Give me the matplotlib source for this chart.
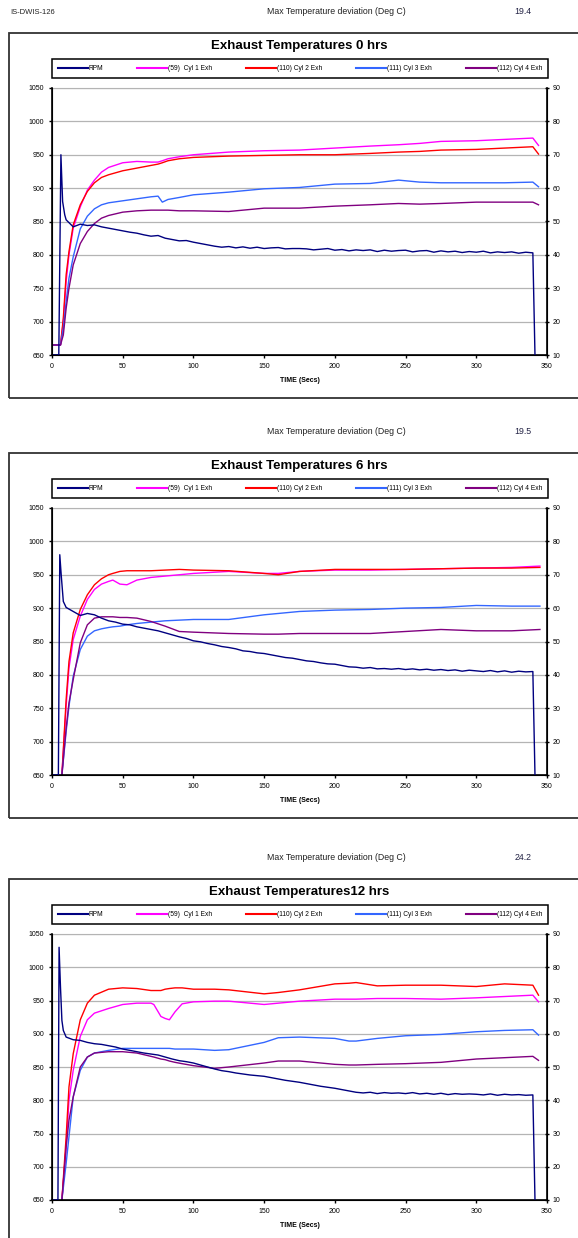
'''exhaust temperature traces for three running-time checks'''

import matplotlib
matplotlib.use("Agg")
import matplotlib.pyplot as plt
from matplotlib.patches import Rectangle

plt.rcParams['font.family'] = ['Liberation Sans', 'DejaVu Sans']

W, H = 578, 1238

# ---- data ----
titles = ["Exhaust Temperatures 0 hrs", "Exhaust Temperatures 6 hrs", "Exhaust Temperatures12 hrs"]
max_dev = ["19.4", "19.5", "24.2"]
labels = ["RPM", "(59)  Cyl 1 Exh", "(110) Cyl 2 Exh", "(111) Cyl 3 Exh", "(112) Cyl 4 Exh"]
colors = ["#000080", "#ff00ff", "#ff0000", "#3366ff", "#800080"]

temp_ticks = [650, 700, 750, 800, 850, 900, 950, 1000, 1050]
rpm_ticks = [10, 20, 30, 40, 50, 60, 70, 80, 90]
time_ticks = [0, 50, 100, 150, 200, 250, 300, 350]

# shared sample grid for the rpm tail (every 5 s from 10 to 340)
rpm_tail_t = list(range(10, 345, 5))

# 0 hrs
t0 = [0, 6, 8, 10, 12, 15, 20, 25, 30, 35, 40, 50, 60, 70, 75, 78, 82, 90, 100, 125,
      150, 175, 200, 225, 245, 260, 275, 300, 320, 340, 344]
cyl1_0 = [665, 665, 700, 760, 800, 840, 872, 897, 912, 924, 931, 938, 940, 939, 939, 941, 944, 947, 950, 954,
          956, 957, 960, 963, 965, 967, 970, 971, 973, 975, 964]
cyl2_0 = [665, 665, 705, 770, 805, 845, 875, 895, 908, 916, 920, 926, 930, 934, 936, 938, 941, 944, 946, 948,
          949, 950, 950, 952, 954, 955, 957, 958, 960, 962, 951]
cyl3_0 = [665, 665, 690, 730, 765, 797, 839, 858, 869, 875, 878, 881, 884, 887, 888, 879, 883, 886, 890, 894,
          899, 901, 906, 907, 912, 909, 908, 908, 908, 909, 902]
cyl4_0 = [665, 665, 680, 720, 750, 785, 817, 835, 847, 855, 859, 864, 866, 867, 867, 867, 867, 866, 866, 865,
          870, 870, 873, 875, 877, 876, 877, 879, 879, 879, 875]
rpm_head_t0 = [0, 4.8, 6.3, 7.5, 9]
rpm_head_0 = [10, 10, 70, 56, 52]
rpm_tail_0 = [50.5, 48.4, 49.2, 48.8, 49.0, 48.4, 48.0, 47.6, 47.2, 46.8, 46.5, 46.0, 45.6, 45.8, 45.0,
              44.6, 44.2, 44.3, 43.8, 43.4, 43.0, 42.6, 42.3, 42.5, 42.1, 42.4, 42.0, 42.3, 41.9, 42.1,
              42.2, 41.8, 41.9, 41.9, 41.8, 41.5, 41.7, 41.9, 41.4, 41.6, 41.2, 41.5, 41.3, 41.5, 41.0,
              41.4, 41.1, 41.3, 41.4, 40.9, 41.2, 41.3, 40.8, 41.2, 40.9, 41.1, 40.7, 41.0, 40.8, 41.1,
              40.6, 40.9, 40.7, 40.9, 40.5, 40.8, 40.6]

# 6 hrs
t6 = [5, 7, 10, 12, 15, 20, 25, 30, 35, 40, 43, 48, 53, 60, 70, 80, 90, 100, 125, 150,
      160, 175, 200, 225, 250, 275, 300, 325, 345]
cyl1_6 = [640, 650, 753, 810, 853, 888, 913, 928, 936, 940, 942, 936, 935, 942, 946, 948, 950, 952, 955, 952,
          952, 955, 957, 957, 958, 959, 960, 961, 963]
cyl2_6 = [640, 650, 763, 820, 863, 898, 920, 935, 944, 950, 952, 955, 956, 956, 956, 957, 958, 957, 956, 952,
          950, 955, 958, 958, 958, 959, 960, 960, 961]
cyl3_6 = [640, 650, 715, 753, 798, 838, 858, 866, 869, 871, 872, 873, 875, 877, 879, 881, 882, 883, 883, 890,
          892, 895, 897, 898, 900, 901, 904, 903, 903]
cyl4_6 = [640, 650, 720, 758, 793, 848, 875, 885, 887, 887, 887, 886, 886, 885, 880, 873, 865, 864, 862, 861,
          861, 862, 862, 862, 865, 868, 866, 866, 868]
rpm_head_t6 = [0, 4.5, 5.5, 6.5, 8]
rpm_head_6 = [10, 10, 76, 70, 62]
rpm_tail_6 = [60.2, 59.0, 57.8, 58.4, 58.0, 57.0, 56.2, 55.8, 55.2, 55.0, 54.4, 54.0, 53.6, 53.2, 52.6,
              52.0, 51.4, 50.9, 50.2, 49.9, 49.4, 49.0, 48.5, 48.2, 47.8, 47.2, 47.0, 46.6, 46.4, 46.0,
              45.6, 45.2, 45.0, 44.6, 44.2, 44.0, 43.6, 43.3, 43.2, 42.8, 42.4, 42.3, 42.0, 42.2, 41.8,
              41.9, 41.7, 41.9, 41.6, 41.8, 41.5, 41.7, 41.4, 41.6, 41.3, 41.5, 41.1, 41.4, 41.2, 41.0,
              41.3, 40.9, 41.2, 40.8, 41.1, 40.9, 41.0]

# 12 hrs
t12 = [5, 7, 10, 12, 15, 20, 25, 30, 40, 50, 60, 70, 72, 77, 80, 83, 87, 92, 100, 115,
       125, 150, 160, 175, 200, 210, 215, 230, 250, 275, 300, 320, 340, 344]
cyl1_12 = [640, 650, 730, 800, 845, 896, 921, 931, 938, 944, 946, 946, 944, 926, 923, 921, 933, 945, 948, 949,
           949, 944, 946, 949, 952, 952, 952, 953, 953, 952, 954, 956, 958, 948]
cyl2_12 = [640, 650, 745, 820, 870, 921, 946, 958, 967, 969, 968, 965, 965, 965, 967, 968, 969, 969, 967, 967,
           966, 960, 962, 966, 975, 976, 977, 972, 973, 973, 971, 975, 973, 958]
cyl3_12 = [640, 650, 705, 745, 805, 845, 865, 871, 875, 878, 878, 878, 878, 878, 878, 878, 877, 877, 877, 875,
           876, 887, 894, 895, 893, 889, 889, 893, 897, 899, 903, 905, 906, 898]
cyl4_12 = [640, 650, 730, 770, 805, 850, 865, 871, 873, 873, 871, 866, 865, 862, 861, 859, 857, 855, 852, 848,
           850, 856, 859, 859, 854, 853, 853, 854, 855, 857, 862, 864, 866, 860]
rpm_head_t12 = [0, 4.2, 5, 6, 7, 8]
rpm_head_12 = [10, 10, 86, 74, 64, 61]
rpm_tail_12 = [59.0, 58.2, 58.0, 57.4, 57.0, 56.8, 56.4, 56.0, 55.4, 55.0, 54.6, 54.2, 53.9, 53.6, 53.0,
               52.4, 51.9, 51.6, 51.2, 50.6, 50.0, 49.4, 48.9, 48.6, 48.2, 47.9, 47.6, 47.4, 47.2, 46.8,
               46.4, 46.0, 45.7, 45.4, 45.0, 44.6, 44.2, 43.9, 43.6, 43.2, 42.8, 42.4, 42.2, 42.4, 42.0,
               42.3, 42.1, 42.2, 42.0, 42.3, 41.9, 42.1, 41.8, 42.1, 41.7, 42.0, 41.8, 41.9, 41.8, 41.6,
               41.9, 41.5, 41.8, 41.6, 41.7, 41.5, 41.6]

rpm_end_t = [341.5]
rpm_end = [10]

panels = [
    (t0, [cyl1_0, cyl2_0, cyl3_0, cyl4_0], rpm_head_t0, rpm_head_0, rpm_tail_0),
    (t6, [cyl1_6, cyl2_6, cyl3_6, cyl4_6], rpm_head_t6, rpm_head_6, rpm_tail_6),
    (t12, [cyl1_12, cyl2_12, cyl3_12, cyl4_12], rpm_head_t12, rpm_head_12, rpm_tail_12),
]

# pixel layout of each panel: plot top/bottom (box, title, legend follow from it)
plot_y = [(88, 355), (508, 775), (934, 1200)]
plot_x = (52, 547)

fig = plt.figure(figsize=(W / 100, H / 100), dpi=100)

def fx(px):
    return px / W

def fy(py):
    return 1 - py / H

fig.text(fx(10), fy(12), "IS-DWIS-126", fontsize=5.5, color="#222222", va="center")

for i, (tt, cyls, ht, hv, tv) in enumerate(panels):
    top, bot = plot_y[i]
    btop, bbot = top - 55, bot + 43

    fig.patches.append(Rectangle((fx(9), fy(bbot)), fx(W + 10) - fx(9), fy(btop) - fy(bbot),
                                 transform=fig.transFigure, fill=False, edgecolor="#333333", lw=1.3))
    fig.text(fx(336), fy(btop - 21), "Max Temperature deviation (Deg C)", fontsize=6.3,
             color="#222222", ha="center", va="center")
    fig.text(fx(523), fy(btop - 21), max_dev[i], fontsize=6.3, color="#222244", ha="center", va="center")
    fig.text(fx(299), fy(btop + 13), titles[i], fontsize=9.5, fontweight="bold", ha="center", va="center")

    ax = fig.add_axes([fx(plot_x[0]), fy(bot), fx(plot_x[1] - plot_x[0]), (bot - top) / H])
    ax2 = ax.twinx()

    for vals, c in zip(cyls, colors[1:]):
        ax.plot(tt, vals, color=c, lw=1.0)
    ax2.plot(ht + rpm_tail_t + rpm_end_t, hv + tv + rpm_end, color=colors[0], lw=1.0)

    ax.set_xlim(0, 350)
    ax.set_ylim(650, 1050)
    ax2.set_ylim(10, 90)
    ax.set_xticks(time_ticks)
    ax.set_yticks(temp_ticks)
    ax2.set_yticks(rpm_ticks)
    ax.yaxis.grid(True, color="#b4b4b4", lw=0.9)
    ax.set_axisbelow(True)
    ax.tick_params(labelsize=5, length=2.5, width=1, pad=3)
    ax2.tick_params(labelsize=5, length=2.5, width=1, pad=3, direction="inout")
    ax.set_xlabel("TIME (Secs)", fontsize=5, fontweight="bold", labelpad=5)
    for sp in ["left", "bottom"]:
        ax.spines[sp].set_linewidth(1.2)
    ax2.spines["right"].set_linewidth(1.2)
    ax.spines["top"].set_color("#b4b4b4")
    ax2.spines["top"].set_visible(False)

    handles = [plt.Line2D([], [], color=c, lw=1.5) for c in colors]
    leg = fig.legend(handles, labels, ncol=5, loc="center", mode="expand",
                     bbox_to_anchor=(fx(52), fy(btop + 45), fx(548) - fx(52), 19 / H),
                     fontsize=4.8, frameon=True, fancybox=False, edgecolor="black", framealpha=1,
                     handlelength=4.5, handletextpad=0.1, borderpad=0.9, borderaxespad=0)
    leg.get_frame().set_linewidth(1.1)

fig.savefig("out.png", dpi=100)
